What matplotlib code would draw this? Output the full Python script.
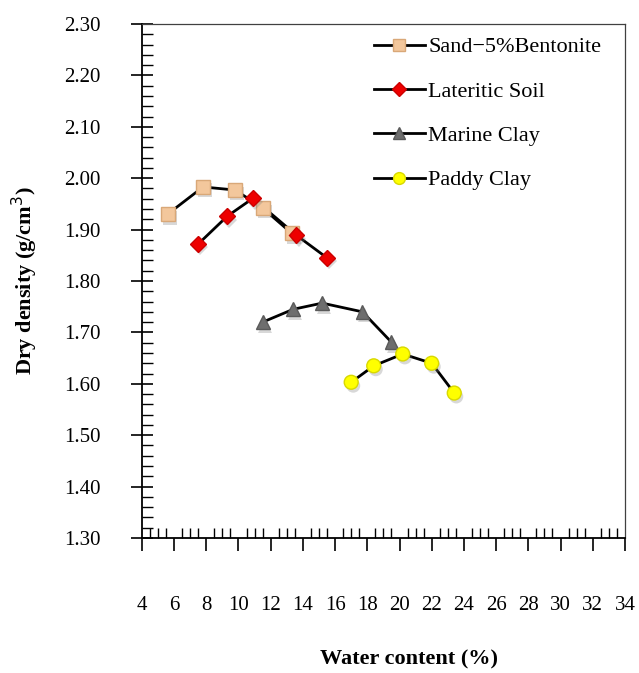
import matplotlib
matplotlib.use("Agg")
import matplotlib.pyplot as plt
from matplotlib.ticker import MultipleLocator, FormatStrFormatter
import matplotlib.patheffects as pe

plt.rcParams['font.family'] = ['Liberation Serif', 'DejaVu Serif']

sand_x = [5.6, 7.8, 9.8, 11.5, 13.3]
sand_y = [1.930, 1.983, 1.977, 1.942, 1.893]
lat_x = [7.5, 9.3, 10.9, 13.6, 15.5]
lat_y = [1.872, 1.926, 1.961, 1.889, 1.845]
mar_x = [11.5, 13.4, 15.2, 17.7, 19.5]
mar_y = [1.720, 1.745, 1.757, 1.740, 1.681]
pad_x = [17.0, 18.4, 20.2, 22.0, 23.4]
pad_y = [1.603, 1.635, 1.658, 1.640, 1.582]

fig = plt.figure(figsize=(6.39, 6.73), dpi=100)
ax = fig.add_axes([0.222, 0.2006, 0.756, 0.7637])

shadow = [pe.SimplePatchShadow(offset=(1.5, -2.5), shadow_rgbFace='0.5', alpha=0.3), pe.Normal()]

series = [
    (sand_x, sand_y, 's', 10, '#F3C79C', '#D9A878', 'Sand\u22125%Bentonite'),
    (lat_x, lat_y, 'D', 8, '#EE0000', '#CC0000', 'Lateritic Soil'),
    (mar_x, mar_y, '^', 10, '#6E6E6E', '#5A5A5A', 'Marine Clay'),
    (pad_x, pad_y, 'o', 10, '#FFFF00', '#D8D800', 'Paddy Clay'),
]
for xs, ys, m, ms, fc, ec, lab in series:
    ax.plot(xs, ys, '-', color='black', lw=2, zorder=2)
    ax.plot(xs, ys, ls='none', marker=m, ms=ms, mfc=fc, mec=ec, mew=1,
            path_effects=shadow, zorder=3)
    ax.plot([], [], '-', color='black', lw=2, marker=m, ms=ms * 0.85,
            mfc=fc, mec=ec, mew=1, label=lab)

ax.set_xlim(4, 34)
ax.set_ylim(1.30, 2.30)
ax.xaxis.set_major_locator(MultipleLocator(2))
ax.xaxis.set_minor_locator(MultipleLocator(0.5))
ax.yaxis.set_major_locator(MultipleLocator(0.1))
ax.yaxis.set_minor_locator(MultipleLocator(0.02))
ax.yaxis.set_major_formatter(FormatStrFormatter('%.2f'))

for s in ['left', 'bottom']:
    ax.spines[s].set_linewidth(1.3)
for s in ['top', 'right']:
    ax.spines[s].set_linewidth(0.9)
    ax.spines[s].set_color('#404040')

ax.tick_params(axis='x', which='major', direction='out', length=9, width=1.2,
               pad=33, labelsize=15)
ax.tick_params(axis='x', which='minor', direction='in', length=7, width=1)
ax.tick_params(axis='y', which='major', direction='inout', length=16, width=1.2,
               pad=22, labelsize=15)
ax.tick_params(axis='y', which='minor', direction='in', length=8, width=1)
ax.tick_params(right=False, top=False, which='both')

ax.set_xlabel('Water content (%)', fontsize=16, fontweight='bold', va='center')
ax.xaxis.set_label_coords(0.553, -0.237)
ax.set_ylabel('Dry density (g/cm$^3$)', fontsize=16, fontweight='bold', va='center')
ax.yaxis.set_label_coords(-0.242, 0.5)

leg = ax.legend(loc='upper left', bbox_to_anchor=(0.48, 0.975), frameon=False,
                fontsize=16, handlelength=2.3, labelspacing=1.07, handletextpad=0.15,
                borderaxespad=0, borderpad=0)

fig.savefig('out.png', dpi=100)
